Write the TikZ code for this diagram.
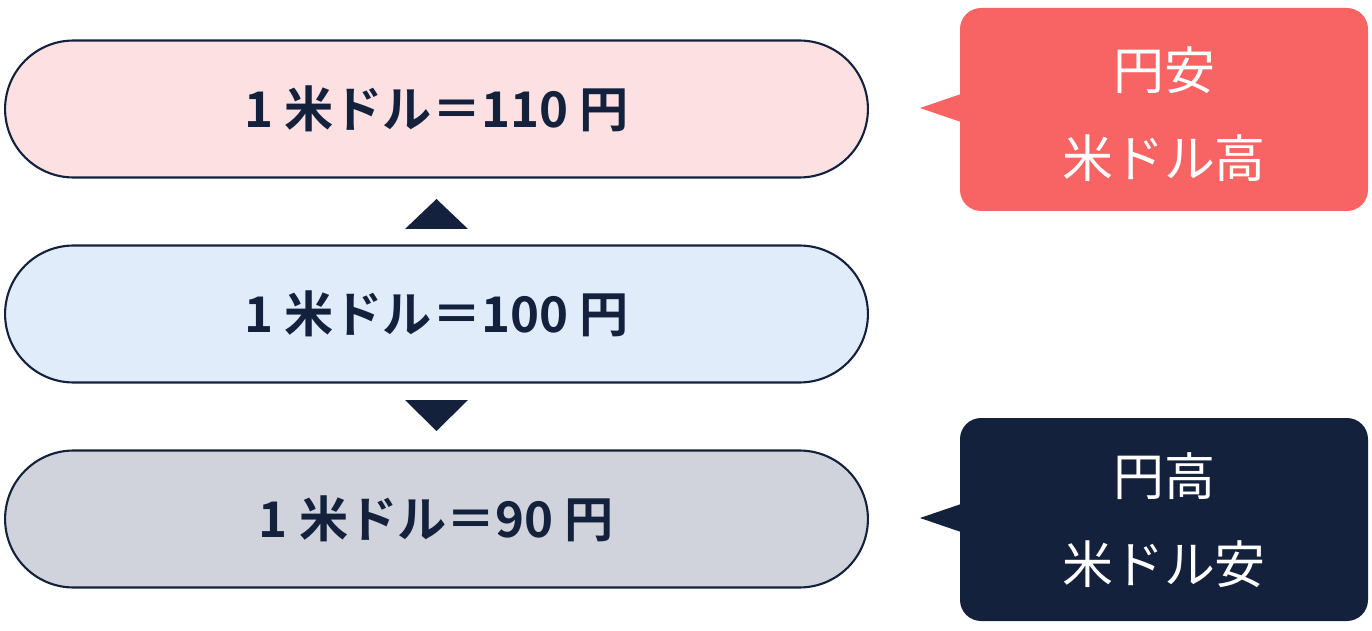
\documentclass[tikz,border=0pt]{standalone}
\usepackage{fontspec}
\newfontfamily\jpfont{Noto Sans CJK JP}
\newfontfamily\jpbold{Noto Sans CJK JP Bold}
\usetikzlibrary{shapes.misc}
\definecolor{navy}{HTML}{14213D}
\definecolor{pinkfill}{HTML}{FDE0E1}
\definecolor{bluefill}{HTML}{E1ECFB}
\definecolor{grayfill}{HTML}{D0D3DB}
\definecolor{redbox}{HTML}{F86364}
\tikzset{
  pill/.style={rounded rectangle, draw=navy, line width=1.2pt, minimum width=17.26cm,
    minimum height=2.74cm, inner sep=0pt, font=\jpbold\fontsize{28}{32}\selectfont, text=navy},
  calltext/.style={align=center, text=white, font=\jpfont\fontsize{29}{50}\selectfont}
}
\begin{document}
\begin{tikzpicture}[x=0.02cm,y=-0.02cm]
    \useasboundingbox (0,0) rectangle (1372,631);
    % rates
    \node[pill, fill=pinkfill] (high) at (436.5,109) {1 米ドル＝110 円};
    \node[pill, fill=bluefill] (mid) at (436.5,314) {1 米ドル＝100 円};
    \node[pill, fill=grayfill] (low) at (436.5,519) {1 米ドル＝90 円};
    % arrows
    \fill[navy] (405,229) -- (436.5,199) -- (468,229) -- cycle;
    \fill[navy] (405,400) -- (436.5,431) -- (468,400) -- cycle;
    % callouts
    \fill[redbox, rounded corners=12] (960,8) rectangle (1368,211);
    \fill[redbox] (961,94) -- (920,108) -- (961,122) -- cycle;
    \node[calltext] (weak) at (1164,114) {円安\\米ドル高};
    \fill[navy, rounded corners=12] (960,418) rectangle (1368,621);
    \fill[navy] (961,504) -- (920,518) -- (961,532) -- cycle;
    \node[calltext] (strong) at (1164,520) {円高\\米ドル安};
\end{tikzpicture}
\end{document}
